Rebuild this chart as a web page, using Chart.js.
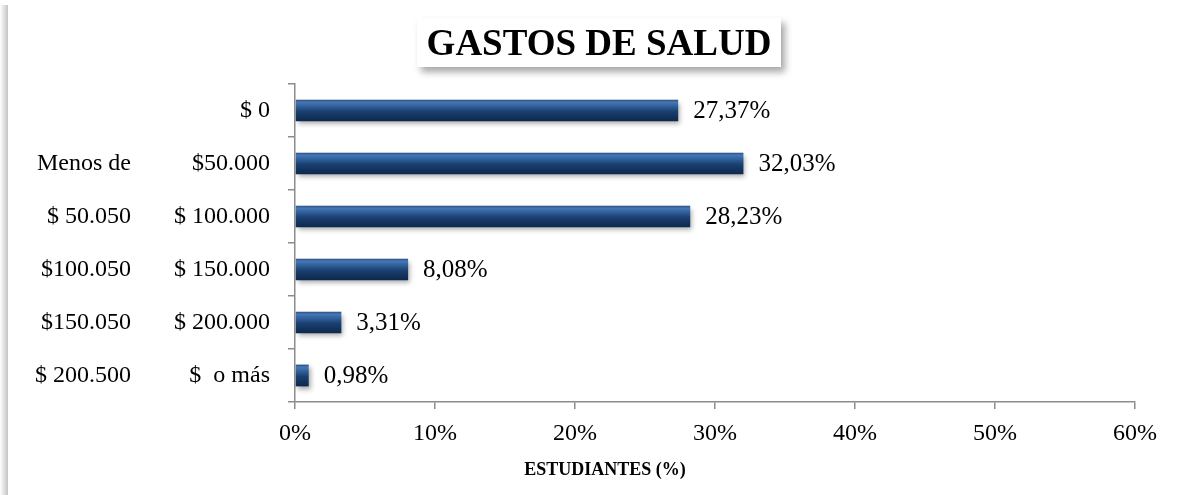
<!DOCTYPE html>
<html>
<head>
<meta charset="utf-8">
<script src="https://cdn.jsdelivr.net/npm/chart.js@4.4.1/dist/chart.umd.min.js"></script>
<style>
  html, body { margin: 0; padding: 0; background: #fff; }
  #marco { position: relative; width: 1185px; height: 495px; overflow: hidden; }
  #sombra { position: absolute; left: 0; top: 5px; width: 8px; height: 490px;
            background: linear-gradient(to right, #fff, #c4c4c4); }
  #titulo { position: absolute; left: 417px; top: 18px; width: 364px; height: 49px;
            background: #fff; box-shadow: 4px 5px 7px rgba(0,0,0,0.35);
            font: bold 37px "Liberation Serif", "Times New Roman", serif;
            line-height: 49px; text-align: center; color: #000; z-index: 2; }
  #tituloX { position: absolute; left: 455px; top: 459px; width: 300px; text-align: center;
             font: bold 18px "Liberation Serif", "Times New Roman", serif; line-height: 20px; color: #000; }
  canvas { position: absolute; left: 0; top: 0; }
</style>
</head>
<body>
<div id="marco">
  <div id="sombra"></div>
  <canvas id="grafico" width="1185" height="495"></canvas>
  <div id="titulo">GASTOS DE SALUD</div>
  <div id="tituloX">ESTUDIANTES (%)</div>
</div>
<script>
// Datos del gráfico (rangos de gasto y porcentaje de estudiantes)
const rangoDesde = ['', 'Menos de', '$ 50.050', '$100.050', '$150.050', '$ 200.500'];
const rangoHasta = ['$ 0', '$50.000', '$ 100.000', '$ 150.000', '$ 200.000', '$  o más'];
const porcentajes = [27.37, 32.03, 28.23, 8.08, 3.31, 0.98];
const etiquetasPct = ['27,37%', '32,03%', '28,23%', '8,08%', '3,31%', '0,98%'];
const ticksX = [0, 10, 20, 30, 40, 50, 60];

const categorias = rangoDesde.map((d, i) => (d ? d + ' ' : '') + rangoHasta[i]);
const fuente = '"Liberation Serif", "Times New Roman", serif';

// degradado "3D" de cada barra, calculado con la escala Y
function colorBarra(ctx) {
    const chart = ctx.chart;
    const y = chart.scales.y;
    if (!y || !chart.chartArea) return '#1c3f6d';
    const centro = y.getPixelForValue(ctx.dataIndex);
    const alto = 22;
    const g = chart.ctx.createLinearGradient(0, centro - alto / 2, 0, centro + alto / 2);
    g.addColorStop(0, '#24497c');
    g.addColorStop(0.12, '#4778b5');
    g.addColorStop(0.32, '#2f5e99');
    g.addColorStop(0.55, '#1a3f6f');
    g.addColorStop(1, '#0c274b');
    return g;
}

// etiquetas del eje Y en dos columnas
const etiquetasY = {
    id: 'etiquetasY',
    afterDraw(chart) {
        const c = chart.ctx;
        const y = chart.scales.y;
        c.save();
        c.font = '24px ' + fuente;
        c.fillStyle = '#000';
        c.textBaseline = 'middle';
        c.textAlign = 'right';
        categorias.forEach((_, i) => {
            const py = y.getPixelForValue(i);
            c.fillText(rangoHasta[i], 270, py);
            if (rangoDesde[i]) c.fillText(rangoDesde[i], 131, py);
        });
        c.restore();
    }
};

// etiquetas de valor al final de cada barra
const etiquetasValor = {
    id: 'etiquetasValor',
    afterDatasetsDraw(chart) {
        const c = chart.ctx;
        const meta = chart.getDatasetMeta(0);
        c.save();
        c.font = '25px ' + fuente;
        c.fillStyle = '#000';
        c.textBaseline = 'middle';
        c.textAlign = 'left';
        meta.data.forEach((barra, i) => {
            c.fillText(etiquetasPct[i], barra.x + 15, barra.y + 1);
        });
        c.restore();
    }
};

// sombra suave debajo de las barras
const sombraBarras = {
    id: 'sombraBarras',
    beforeDatasetsDraw(chart) {
        const c = chart.ctx;
        c.save();
        c.shadowColor = 'rgba(0,0,0,0.35)';
        c.shadowBlur = 5;
        c.shadowOffsetX = 2;
        c.shadowOffsetY = 3;
    },
    afterDatasetsDraw(chart) {
        chart.ctx.restore();
    }
};

new Chart(document.getElementById('grafico'), {
    type: 'bar',
    data: {
        labels: categorias,
        datasets: [{
            data: porcentajes,
            backgroundColor: colorBarra,
            borderWidth: 0,
            categoryPercentage: 1,
            barPercentage: 0.41
        }]
    },
    options: {
        indexAxis: 'y',
        responsive: false,
        animation: false,
        layout: { padding: { left: 0, right: 50, top: 84, bottom: 0 } },
        plugins: { legend: { display: false }, tooltip: { enabled: false } },
        scales: {
            x: {
                min: 0,
                max: 60,
                afterBuildTicks(scale) { scale.ticks = ticksX.map(v => ({ value: v })); },
                afterFit(scale) { scale.height = 93; },
                border: { color: '#8c8c8c', width: 1.5 },
                grid: { drawOnChartArea: false, drawTicks: true, tickLength: 7, color: '#8c8c8c', lineWidth: 1.5 },
                ticks: {
                    color: '#000',
                    font: { family: fuente, size: 24 },
                    padding: 10,
                    callback: v => v + '%'
                }
            },
            y: {
                afterFit(scale) { scale.width = 295; },
                border: { color: '#8c8c8c', width: 1.5 },
                grid: { offset: true, drawOnChartArea: false, drawTicks: true, tickLength: 7, color: '#8c8c8c', lineWidth: 1.5 },
                ticks: { display: false }
            }
        }
    },
    plugins: [sombraBarras, etiquetasValor, etiquetasY]
});
</script>
</body>
</html>
